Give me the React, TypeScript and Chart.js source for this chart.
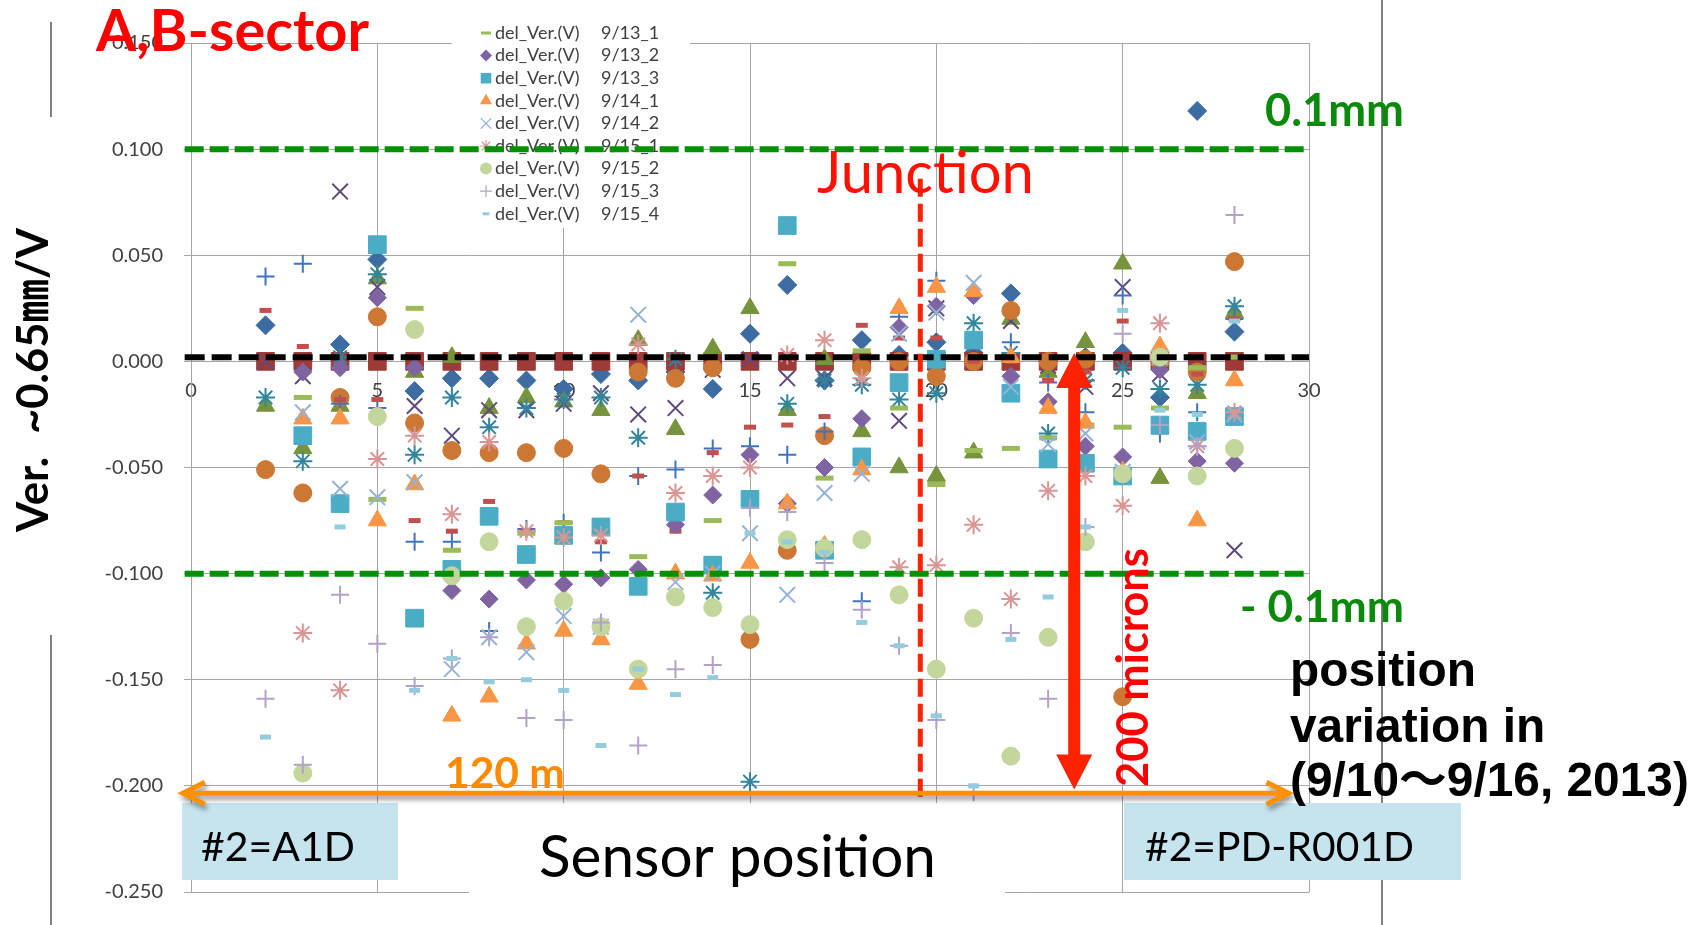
import React, { useEffect, useRef } from 'react';
import { Chart, registerables } from 'chart.js';

Chart.register(...registerables);

// ---------------- data ----------------
const positions = [2, 3, 4, 5, 6, 7, 8, 9, 10, 11, 12, 13, 14, 15, 16, 17, 18, 19, 20, 21, 22, 23, 24, 25, 26, 27, 28];

const yTicksMin = -0.25;
const yTicksMax = 0.15;
const yTickStep = 0.05;
const xTicksMin = 0;
const xTicksMax = 30;
const xTickStep = 5;

const ver0910_1 = [0.017, 0.000, 0.008, 0.048, -0.014, -0.008, -0.008, -0.009, -0.013, -0.006, -0.009, -0.005, -0.013, 0.013, 0.036, -0.009, 0.010, 0.003, 0.009, 0.004, 0.032, 0.000, 0.002, 0.004, -0.017, 0.118, 0.014];
const ver0910_2 = [0, 0, 0, 0, 0, 0, 0, 0, 0, 0, 0, 0, 0, 0, 0, 0, 0, 0, 0, 0, 0, 0, 0, 0, 0, 0, 0];
const ver0911_1 = [-0.021, -0.041, -0.021, 0.039, -0.005, 0.002, -0.022, -0.017, -0.019, -0.023, 0.010, -0.032, 0.006, 0.025, -0.023, 0.001, -0.033, -0.050, -0.054, -0.043, 0.020, -0.005, 0.009, 0.046, -0.055, -0.015, 0.023];
const ver0911_2 = [0.000, -0.007, 0.080, 0.035, -0.021, -0.035, -0.023, -0.023, -0.020, -0.015, -0.025, -0.022, -0.004, 0.001, -0.008, -0.008, -0.008, -0.028, 0.025, 0.005, 0.019, -0.002, -0.012, 0.035, -0.006, -0.004, -0.089];
const ver0911_3 = [-0.017, -0.047, 0.002, 0.041, -0.044, -0.017, -0.031, -0.022, -0.018, -0.017, -0.036, 0.001, -0.109, -0.198, -0.020, -0.009, -0.011, -0.018, -0.015, 0.018, 0.004, -0.034, -0.009, -0.003, -0.013, -0.011, 0.026];
const ver0912_1 = [-0.051, -0.062, -0.017, 0.021, -0.029, -0.042, -0.043, -0.043, -0.041, -0.053, -0.005, -0.008, -0.003, -0.131, -0.089, -0.035, -0.003, 0.000, -0.007, 0.000, 0.024, 0.000, 0.001, -0.158, 0.000, -0.005, 0.047];
const ver0912_2 = [0.040, 0.046, -0.020, -0.022, -0.085, -0.085, -0.127, -0.079, -0.076, -0.090, -0.054, -0.051, -0.041, -0.040, -0.044, -0.033, -0.113, 0.021, 0.038, 0.010, 0.009, -0.010, -0.024, 0.031, -0.034, -0.024, 0.020];
const ver0912_3 = [0.024, 0.007, -0.018, -0.018, -0.075, -0.080, -0.066, -0.080, -0.076, -0.085, -0.054, -0.080, -0.043, -0.031, -0.030, -0.026, 0.017, 0.011, 0.011, 0.000, 0.000, -0.009, -0.005, 0.019, -0.004, -0.006, 0.020];
const ver0913_1 = [null, -0.017, null, -0.065, 0.025, -0.089, null, -0.081, -0.076, -0.080, -0.092, -0.070, -0.075, null, 0.046, -0.055, 0.005, -0.022, -0.058, -0.042, -0.041, -0.036, -0.030, -0.031, -0.022, -0.003, 0.002];
const ver0913_2 = [null, -0.005, -0.003, 0.030, -0.003, -0.108, -0.112, -0.103, -0.105, -0.102, -0.098, -0.077, -0.063, -0.044, -0.067, -0.050, -0.027, 0.016, 0.026, 0.031, -0.007, -0.019, -0.040, -0.045, -0.004, -0.047, -0.048];
const ver0913_3 = [null, -0.035, -0.067, 0.055, -0.121, -0.098, -0.073, -0.091, -0.082, -0.078, -0.106, -0.071, -0.096, -0.065, 0.064, -0.089, -0.045, -0.010, 0.001, 0.010, -0.015, -0.046, -0.048, -0.054, -0.030, -0.033, -0.026];
const ver0914_1 = [null, -0.027, -0.027, -0.075, -0.058, -0.167, -0.158, -0.133, -0.127, -0.131, -0.152, -0.100, -0.101, -0.095, -0.067, -0.087, -0.051, 0.025, 0.035, 0.033, 0.002, -0.022, -0.029, -0.052, 0.007, -0.075, -0.009];
const ver0914_2 = [null, -0.024, -0.060, -0.064, -0.057, -0.145, -0.130, -0.137, -0.120, -0.125, 0.022, -0.104, -0.100, -0.081, -0.110, -0.062, -0.053, 0.013, 0.023, 0.037, -0.012, -0.039, -0.034, -0.052, 0.002, -0.038, -0.025];
const ver0915_1 = [null, -0.128, -0.155, -0.046, -0.035, -0.072, -0.038, -0.080, -0.083, -0.082, 0.008, -0.062, -0.054, -0.050, 0.003, 0.010, -0.008, -0.097, -0.096, -0.077, -0.112, -0.061, -0.054, -0.068, 0.018, -0.040, -0.024];
const ver0915_2 = [null, -0.194, null, -0.026, 0.015, -0.101, -0.085, -0.125, -0.113, -0.125, -0.145, -0.111, -0.116, -0.124, -0.084, -0.088, -0.084, -0.110, -0.145, -0.121, -0.186, -0.130, -0.085, -0.053, 0.002, -0.054, -0.041];
const ver0915_3 = [-0.159, -0.190, -0.110, -0.133, -0.153, -0.140, -0.130, -0.168, -0.169, -0.123, -0.181, -0.145, -0.143, -0.069, -0.071, -0.095, -0.117, -0.134, -0.169, -0.203, -0.128, -0.159, -0.078, 0.013, -0.030, -0.040, 0.069];
const ver0915_4 = [-0.177, null, -0.078, null, -0.155, -0.140, -0.151, -0.150, -0.155, -0.181, -0.145, -0.157, -0.149, -0.081, -0.085, -0.090, -0.123, -0.134, -0.167, -0.200, -0.131, -0.111, -0.078, 0.024, -0.023, -0.025, 0.019];

const seriesLabels = ['9/10_1', '9/10_2', '9/11_1', '9/11_2', '9/11_3', '9/12_1', '9/12_2', '9/12_3',
  '9/13_1', '9/13_2', '9/13_3', '9/14_1', '9/14_2', '9/15_1', '9/15_2', '9/15_3', '9/15_4'];
const seriesValues: (number | null)[][] = [ver0910_1, ver0910_2, ver0911_1, ver0911_2, ver0911_3, ver0912_1, ver0912_2, ver0912_3,
  ver0913_1, ver0913_2, ver0913_3, ver0914_1, ver0914_2, ver0915_1, ver0915_2, ver0915_3, ver0915_4];
const legendFrom = 8; // the legend shows the series from 9/13_1 onwards
const legendName = 'del_Ver.(V)';

// ---------------- styles ----------------
type Sty = { color: string; style: string; r: number; bw: number; lr: number; lbw: number };
const STYLES: Sty[] = [
  { color: '#3D6CA3', style: 'rectRot', r: 9.5, bw: 1, lr: 6, lbw: 1 },
  { color: '#9E3A38', style: 'rect', r: 12.5, bw: 1, lr: 8, lbw: 1 },
  { color: '#77933C', style: 'triangle', r: 10.5, bw: 1, lr: 7, lbw: 1 },
  { color: '#604A7B', style: 'crossRot', r: 11, bw: 2, lr: 7, lbw: 1.2 },
  { color: '#31859C', style: 'star', r: 9.5, bw: 2, lr: 6, lbw: 1.2 },
  { color: '#CC7733', style: 'circle', r: 9, bw: 1, lr: 6, lbw: 1 },
  { color: '#3F74BF', style: 'cross', r: 9, bw: 2, lr: 6, lbw: 1.2 },
  { color: '#C0504D', style: 'line', r: 6, bw: 5, lr: 4, lbw: 3 },
  { color: '#9BBB59', style: 'line', r: 9, bw: 5, lr: 5, lbw: 3 },
  { color: '#8064A2', style: 'rectRot', r: 9, bw: 1, lr: 6, lbw: 1 },
  { color: '#4BACC6', style: 'rect', r: 12.5, bw: 1, lr: 7.5, lbw: 1 },
  { color: '#F79646', style: 'triangle', r: 10.5, bw: 1, lr: 7, lbw: 1 },
  { color: '#95B3D7', style: 'crossRot', r: 11, bw: 2, lr: 7.5, lbw: 1.2 },
  { color: '#D99694', style: 'star', r: 9.5, bw: 2, lr: 6, lbw: 1.2 },
  { color: '#C3D69B', style: 'circle', r: 9, bw: 1, lr: 6, lbw: 1 },
  { color: '#B3A2C7', style: 'cross', r: 9, bw: 2, lr: 6, lbw: 1.2 },
  { color: '#93CDDD', style: 'line', r: 5.5, bw: 5, lr: 3.5, lbw: 3 },
];

const SANS = 'Lato, "Noto Sans CJK JP", sans-serif';
const ARIAL = '"Liberation Sans", Arial, "Noto Sans CJK JP", sans-serif';

function drawMarker(ctx: CanvasRenderingContext2D, style: string, x: number, y: number, r: number, color: string, bw: number) {
  ctx.save();
  ctx.fillStyle = color;
  ctx.strokeStyle = color;
  ctx.lineWidth = bw;
  ctx.beginPath();
  const d = r * Math.SQRT1_2;
  switch (style) {
    case 'rectRot':
      ctx.moveTo(x - r, y); ctx.lineTo(x, y - r); ctx.lineTo(x + r, y); ctx.lineTo(x, y + r); ctx.closePath(); ctx.fill(); break;
    case 'rect':
      ctx.rect(x - d, y - d, 2 * d, 2 * d); ctx.fill(); break;
    case 'triangle': {
      let a = 0;
      ctx.moveTo(x + Math.sin(a) * r, y - Math.cos(a) * r);
      a += (2 * Math.PI) / 3; ctx.lineTo(x + Math.sin(a) * r, y - Math.cos(a) * r);
      a += (2 * Math.PI) / 3; ctx.lineTo(x + Math.sin(a) * r, y - Math.cos(a) * r);
      ctx.closePath(); ctx.fill(); break;
    }
    case 'circle':
      ctx.arc(x, y, r, 0, Math.PI * 2); ctx.fill(); break;
    case 'cross':
      ctx.moveTo(x - r, y); ctx.lineTo(x + r, y); ctx.moveTo(x, y - r); ctx.lineTo(x, y + r); ctx.stroke(); break;
    case 'crossRot':
      ctx.moveTo(x - d, y - d); ctx.lineTo(x + d, y + d); ctx.moveTo(x + d, y - d); ctx.lineTo(x - d, y + d); ctx.stroke(); break;
    case 'star':
      ctx.moveTo(x - r, y); ctx.lineTo(x + r, y); ctx.moveTo(x, y - r); ctx.lineTo(x, y + r);
      ctx.moveTo(x - d, y - d); ctx.lineTo(x + d, y + d); ctx.moveTo(x + d, y - d); ctx.lineTo(x - d, y + d); ctx.stroke(); break;
    case 'line':
      ctx.moveTo(x - r, y); ctx.lineTo(x + r, y); ctx.stroke(); break;
  }
  ctx.restore();
}

function fitFont(ctx: CanvasRenderingContext2D, text: string, width: number, weight: string, family: string) {
  ctx.font = `${weight} 100px ${family}`;
  const w = ctx.measureText(text).width;
  const size = (100 * width) / w;
  ctx.font = `${weight} ${size}px ${family}`;
  return size;
}

function fitText(ctx: CanvasRenderingContext2D, text: string, x: number, y: number, width: number, weight: string, family: string, color: string) {
  fitFont(ctx, text, width, weight, family);
  ctx.fillStyle = color;
  ctx.textAlign = 'left';
  ctx.textBaseline = 'alphabetic';
  ctx.fillText(text, x, y);
}

const overlayPlugin = {
  id: 'overlay',
  beforeDatasetsDraw(chart: any) {
    const ctx: CanvasRenderingContext2D = chart.ctx;
    ctx.save();
    // legend background
    ctx.fillStyle = '#ffffff';
    ctx.fillRect(452, 0, 238, 228);
    for (let i = legendFrom; i < seriesLabels.length; i++) {
      const st = STYLES[i];
      const y = 33 + (i - legendFrom) * 22.6;
      drawMarker(ctx, st.style, 486, y, st.lr, st.color, st.lbw);
      ctx.fillStyle = '#404040';
      ctx.font = `18px ${SANS}`;
      ctx.textBaseline = 'middle';
      ctx.textAlign = 'left';
      ctx.fillText(legendName, 495, y);
      ctx.fillText(seriesLabels[i], 601, y);
    }
    ctx.restore();
  },
  afterDraw(chart: any) {
    const ctx: CanvasRenderingContext2D = chart.ctx;
    const xs = chart.scales.x;
    const ys = chart.scales.y;
    const px = (v: number) => xs.getPixelForValue(v);
    const py = (v: number) => ys.getPixelForValue(v);
    ctx.save();

    // slide frame lines
    ctx.strokeStyle = '#7F7F7F';
    ctx.lineWidth = 2;
    ctx.beginPath();
    ctx.moveTo(51, 22); ctx.lineTo(51, 117);
    ctx.moveTo(51, 635); ctx.lineTo(51, 925);
    ctx.moveTo(1382, 0); ctx.lineTo(1382, 925);
    ctx.stroke();

    // green +-0.1 mm lines
    ctx.setLineDash([19, 6]);
    ctx.lineWidth = 6;
    ctx.strokeStyle = '#009100';
    ctx.beginPath();
    ctx.moveTo(px(-0.17), py(0.1)); ctx.lineTo(px(30), py(0.1));
    ctx.moveTo(px(-0.17), py(-0.1)); ctx.lineTo(px(30), py(-0.1));
    ctx.stroke();

    // black zero line
    ctx.setLineDash([20, 7]);
    ctx.strokeStyle = '#000000';
    ctx.beginPath();
    ctx.moveTo(px(-0.17), py(0.0019)); ctx.lineTo(px(30), py(0.0019));
    ctx.stroke();

    // red junction line
    ctx.setLineDash([18, 7]);
    ctx.lineWidth = 5;
    ctx.strokeStyle = '#FF2200';
    ctx.beginPath();
    ctx.moveTo(px(19.57), py(0.086)); ctx.lineTo(px(19.57), py(-0.208));
    ctx.stroke();
    ctx.setLineDash([]);

    // white box behind "Sensor position"
    ctx.fillStyle = '#ffffff';
    ctx.fillRect(469, 803, 536, 122);

    // light blue boxes
    ctx.fillStyle = '#C6E4EE';
    ctx.fillRect(182, 803, 216, 77);
    ctx.fillRect(1124, 803, 337, 77);

    // orange 120 m arrow with shadow
    ctx.save();
    ctx.shadowColor = 'rgba(0,0,0,0.4)';
    ctx.shadowBlur = 5;
    ctx.shadowOffsetX = 2;
    ctx.shadowOffsetY = 4;
    ctx.strokeStyle = '#FF9100';
    ctx.lineWidth = 5;
    ctx.lineJoin = 'miter';
    const ay = py(-0.2035);
    const ax1 = px(-0.22);
    const ax2 = px(29.45);
    ctx.beginPath();
    ctx.moveTo(ax1 + 2, ay); ctx.lineTo(ax2 - 2, ay);
    ctx.moveTo(ax1 + 22, ay - 11); ctx.lineTo(ax1, ay); ctx.lineTo(ax1 + 22, ay + 11);
    ctx.moveTo(ax2 - 22, ay - 11); ctx.lineTo(ax2, ay); ctx.lineTo(ax2 - 22, ay + 11);
    ctx.stroke();
    ctx.restore();

    // red 200 microns arrow
    {
      const x = px(23.7);
      const yT = py(0.004);
      const yB = py(-0.2017);
      const sw = 12, hw = 36, hl = 35;
      ctx.fillStyle = '#FF2200';
      ctx.beginPath();
      ctx.moveTo(x, yT);
      ctx.lineTo(x + hw / 2, yT + hl);
      ctx.lineTo(x + sw / 2, yT + hl);
      ctx.lineTo(x + sw / 2, yB - hl);
      ctx.lineTo(x + hw / 2, yB - hl);
      ctx.lineTo(x, yB);
      ctx.lineTo(x - hw / 2, yB - hl);
      ctx.lineTo(x - sw / 2, yB - hl);
      ctx.lineTo(x - sw / 2, yT + hl);
      ctx.lineTo(x - hw / 2, yT + hl);
      ctx.closePath();
      ctx.fill();
    }

    // texts
    fitText(ctx, 'A,B-sector', 96, 51, 273, 'bold', SANS, '#FF0000');
    fitText(ctx, 'Junction', 817, 193, 217, 'normal', SANS, '#FF1100');
    fitText(ctx, '0.1mm', 1265, 126, 139, 'bold', SANS, '#0A8A0A');
    fitText(ctx, '- 0.1mm', 1240, 622, 164, 'bold', SANS, '#0A8A0A');
    fitText(ctx, '120 m', 445, 788, 120, 'bold', SANS, '#FF8A00');
    fitText(ctx, 'Sensor position', 539, 877, 397, 'normal', SANS, '#000000');
    fitText(ctx, '#2=A1D', 201, 861, 154, 'normal', SANS, '#000000');
    fitText(ctx, '#2=PD-R001D', 1145, 861, 269, 'normal', SANS, '#000000');

    // position variation (three lines)
    const sz = fitFont(ctx, '(9/10～9/16, 2013)', 399, 'bold', ARIAL);
    ctx.font = `bold ${sz}px ${ARIAL}`;
    ctx.fillStyle = '#000000';
    ctx.fillText('position', 1290, 686);
    ctx.fillText('variation in', 1290, 742);
    ctx.fillText('(9/10～9/16, 2013)', 1290, 796);

    // rotated 200 microns
    ctx.save();
    ctx.translate(1148, 787);
    ctx.rotate(-Math.PI / 2);
    fitText(ctx, '200 microns', 0, 0, 239, 'bold', SANS, '#FF0000');
    ctx.restore();

    // y axis title (rotated)
    ctx.save();
    ctx.translate(48, 532);
    ctx.rotate(-Math.PI / 2);
    const tsz = fitFont(ctx, '~0.65㎜/V', 206, 'bold', SANS);
    ctx.font = `bold ${tsz}px ${SANS}`;
    ctx.fillStyle = '#000000';
    ctx.fillText('Ver.', 0, 0);
    ctx.fillText('~0.65㎜/V', 98, 0);
    ctx.restore();

    ctx.restore();
  },
};

export default function App() {
  const canvasRef = useRef<HTMLCanvasElement | null>(null);

  useEffect(() => {
    const canvas = canvasRef.current;
    if (!canvas) return;
    const datasets = seriesValues.map((vals, i) => {
      const st = STYLES[i];
      return {
        label: `${legendName} ${seriesLabels[i]}`,
        data: positions.map((x, j) => ({ x, y: vals[j] })),
        pointStyle: st.style,
        pointRadius: st.r,
        pointHoverRadius: st.r,
        pointBorderWidth: st.bw,
        pointBackgroundColor: st.color,
        pointBorderColor: st.color,
        showLine: false,
        order: seriesValues.length - i,
      };
    });

    const chart = new Chart(canvas, {
      type: 'scatter',
      data: { datasets } as any,
      options: {
        responsive: false,
        animation: false,
        devicePixelRatio: 1,
        layout: { padding: { left: 0, top: 43, right: 394, bottom: 32 } },
        plugins: {
          legend: { display: false },
          tooltip: { enabled: false },
        },
        scales: {
          x: {
            type: 'linear',
            position: { y: 0 } as any,
            min: xTicksMin,
            max: xTicksMax,
            ticks: {
              stepSize: xTickStep,
              color: '#404040',
              font: { family: SANS, size: 20 },
              padding: 17,
              callback: (v: any) => String(v),
            },
            grid: { color: '#A6A6A6', lineWidth: 1, drawTicks: false },
            border: { display: false },
          },
          y: {
            type: 'linear',
            min: yTicksMin,
            max: yTicksMax,
            afterFit: (scale: any) => { scale.width = 191; },
            ticks: {
              stepSize: yTickStep,
              color: '#404040',
              font: { family: SANS, size: 20 },
              padding: 21,
              callback: (v: any) => (Math.abs(Number(v)) < 1e-9 ? '0.000' : Number(v).toFixed(3)),
            },
            grid: { color: '#A6A6A6', lineWidth: 1, tickLength: 7 },
            border: { color: '#A6A6A6' },
          },
        },
      } as any,
      plugins: [overlayPlugin],
    });
    return () => chart.destroy();
  }, []);

  return (
    <div style={{ position: 'fixed', left: 0, top: 0, width: 1703, height: 925, background: '#ffffff' }}>
      <canvas ref={canvasRef} width={1703} height={925} style={{ display: 'block', width: 1703, height: 925 }} />
    </div>
  );
}
